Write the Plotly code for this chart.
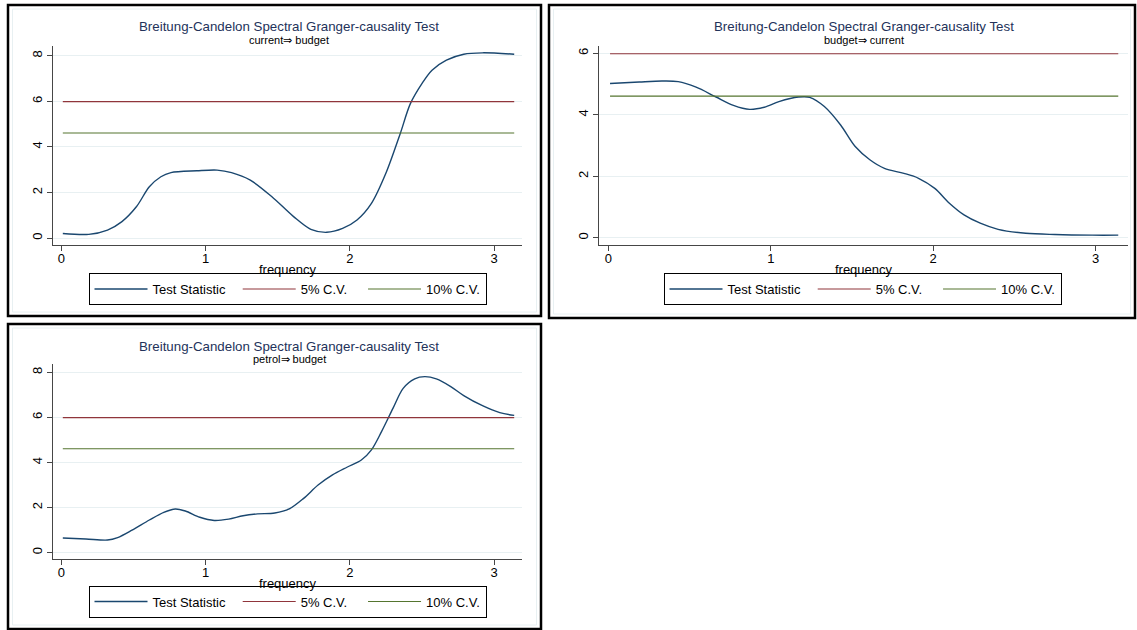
import plotly.graph_objects as go

W, H = 1137, 630

# ---------------- data ----------------
freq1 = [0.01, 0.19, 0.32, 0.42, 0.52, 0.61, 0.69, 0.76, 0.94, 1.08, 1.18, 1.31, 1.46, 1.61,
         1.73, 1.84, 1.95, 2.05, 2.15, 2.25, 2.35, 2.42, 2.50, 2.57, 2.67, 2.79, 2.92, 3.14]
stat1 = [0.20, 0.16, 0.35, 0.72, 1.37, 2.25, 2.69, 2.87, 2.95, 2.98, 2.87, 2.54, 1.81, 0.94,
         0.38, 0.25, 0.42, 0.79, 1.52, 2.84, 4.59, 5.90, 6.78, 7.37, 7.81, 8.07, 8.13, 8.07]

freq2 = [0.01, 0.19, 0.33, 0.43, 0.54, 0.66, 0.77, 0.87, 0.96, 1.05, 1.17, 1.24, 1.33, 1.43,
         1.52, 1.61, 1.70, 1.82, 1.91, 2.01, 2.10, 2.19, 2.29, 2.40, 2.57, 2.75, 2.98, 3.14]
stat2 = [5.02, 5.07, 5.10, 5.08, 4.90, 4.59, 4.31, 4.18, 4.25, 4.43, 4.58, 4.57, 4.27, 3.67,
         2.97, 2.54, 2.26, 2.10, 1.94, 1.61, 1.13, 0.75, 0.48, 0.28, 0.15, 0.11, 0.09, 0.09]

freq3 = [0.01, 0.17, 0.32, 0.39, 0.49, 0.61, 0.71, 0.79, 0.86, 0.96, 1.06, 1.16, 1.26, 1.36,
         1.48, 1.58, 1.68, 1.78, 1.88, 1.98, 2.08, 2.15, 2.22, 2.30, 2.37, 2.45, 2.52, 2.60,
         2.70, 2.79, 2.92, 3.04, 3.14]
stat3 = [0.65, 0.61, 0.56, 0.67, 1.00, 1.45, 1.79, 1.94, 1.85, 1.57, 1.43, 1.49, 1.64, 1.72,
         1.76, 1.94, 2.41, 3.00, 3.45, 3.79, 4.11, 4.56, 5.37, 6.41, 7.29, 7.71, 7.81, 7.71,
         7.37, 6.97, 6.52, 6.21, 6.09]

cv5 = 5.99
cv10 = 4.61

subtitles = ["current\u21d2 budget", "budget\u21d2 current", "petrol\u21d2 budget"]
main_title = "Breitung-Candelon Spectral Granger-causality Test"
series_names = ["Test Statistic\u00a0\u00a0", "5% C.V.\u00a0\u00a0\u00a0", "10% C.V."]
x_ticks = [0, 1, 2, 3]
y_ticks1 = [0, 2, 4, 6, 8]
y_ticks2 = [0, 2, 4, 6]

# ---------------- style ----------------
NAVY = "rgb(26,71,111)"
MAROON = "rgb(144,53,59)"
GREEN = "rgb(85,117,47)"
TITLE_C = "rgb(35,50,90)"
GRID = "rgb(232,240,242)"
AXC = "rgb(70,70,70)"
FONT = "Liberation Sans, Arial, sans-serif"


def px(x):
    return x / W


def py(y):
    return 1 - y / H


panels = [
    dict(freq=freq1, stat=stat1, xd=[53, 522], yd=[245, 46], xr=[-0.058, 3.194], yr=[-0.307, 8.43],
         yt=y_ticks1, leg="legend", lx=(84 + 491) / 2, ly=289, ty=27, sy=40, tx=289),
    dict(freq=freq2, stat=stat2, xd=[599, 1128], yd=[245, 46], xr=[-0.058, 3.2], yr=[-0.23, 6.24],
         yt=y_ticks2, leg="legend2", lx=(634 + 1091) / 2, ly=289, ty=27, sy=40, tx=864),
    dict(freq=freq3, stat=stat3, xd=[53, 522], yd=[559, 364], xr=[-0.058, 3.194], yr=[-0.28, 8.37],
         yt=y_ticks1, leg="legend3", lx=(84 + 491) / 2, ly=601.5, ty=346, sy=359, tx=289),
]

fig = go.Figure()
layout = dict(width=W, height=H, margin=dict(l=0, r=0, t=0, b=0),
              paper_bgcolor="white", plot_bgcolor="white",
              font=dict(family=FONT, size=13, color="black"),
              annotations=[], shapes=[])

for i, p in enumerate(panels):
    n = "" if i == 0 else str(i + 1)
    xa, ya = "x" + n, "y" + n
    f = p["freq"]
    fig.add_trace(go.Scatter(x=f, y=p["stat"], mode="lines", name=series_names[0],
                             line=dict(color=NAVY, width=1.4, shape="spline", smoothing=0.9),
                             xaxis=xa, yaxis=ya, legend=p["leg"]))
    fig.add_trace(go.Scatter(x=[f[0], f[-1]], y=[cv5, cv5], mode="lines", name=series_names[1],
                             line=dict(color=MAROON, width=1.1),
                             xaxis=xa, yaxis=ya, legend=p["leg"]))
    fig.add_trace(go.Scatter(x=[f[0], f[-1]], y=[cv10, cv10], mode="lines", name=series_names[2],
                             line=dict(color=GREEN, width=1.1),
                             xaxis=xa, yaxis=ya, legend=p["leg"]))

    layout["xaxis" + n] = dict(domain=[px(p["xd"][0]), px(p["xd"][1])], range=p["xr"],
                               anchor=ya, tickvals=x_ticks, showgrid=False, zeroline=False,
                               showline=True, linecolor=AXC, linewidth=1,
                               ticks="outside", ticklen=5, tickcolor=AXC,
                               ticklabelstandoff=-4,
                               tickfont=dict(size=13, color="black"),
                               title=dict(text="frequency", standoff=0,
                                          font=dict(size=13, color="black")))
    layout["yaxis" + n] = dict(domain=[py(p["yd"][0]), py(p["yd"][1])], range=p["yr"],
                               anchor=xa, tickvals=p["yt"], showgrid=True, gridcolor=GRID,
                               gridwidth=1, zeroline=False, showline=True, linecolor=AXC,
                               linewidth=1, ticks="outside", ticklen=5, tickcolor=AXC,
                               tickangle=-90, tickfont=dict(size=13, color="black"))
    layout[p["leg"]] = dict(orientation="h", x=px(p["lx"]), xanchor="center",
                            y=py(p["ly"]), yanchor="middle", bordercolor="black", borderwidth=1,
                            bgcolor="white", font=dict(size=13, color="black"),
                            itemwidth=53, tracegroupgap=0)
    layout["annotations"].append(dict(text=main_title, x=px(p["tx"]), y=py(p["ty"]),
                                      xref="paper", yref="paper", showarrow=False,
                                      xanchor="center", yanchor="middle",
                                      font=dict(size=13.3, color=TITLE_C)))
    layout["annotations"].append(dict(text=subtitles[i], x=px(p["tx"]), y=py(p["sy"]),
                                      xref="paper", yref="paper", showarrow=False,
                                      xanchor="center", yanchor="middle",
                                      font=dict(size=11, color="black")))

# panel frames
frames = [(8, 5, 541, 316), (549, 5, 1135, 318), (8, 324, 541, 629)]
for (x0, y0, x1, y1) in frames:
    layout["shapes"].append(dict(type="rect", xref="paper", yref="paper",
                                 x0=px(x0 + 4.5), y0=py(y1 - 4), x1=px(x1 - 4.5), y1=py(y0 + 4),
                                 line=dict(color=GRID, width=1)))
    layout["shapes"].append(dict(type="rect", xref="paper", yref="paper",
                                 x0=px(x0), y0=py(y1), x1=px(x1), y1=py(y0),
                                 line=dict(color="black", width=2.5)))

fig.update_layout(**layout)
fig.write_html("out.html", config={"displayModeBar": False},
               post_script="document.body.style.margin='0';document.body.style.overflow='hidden';")
